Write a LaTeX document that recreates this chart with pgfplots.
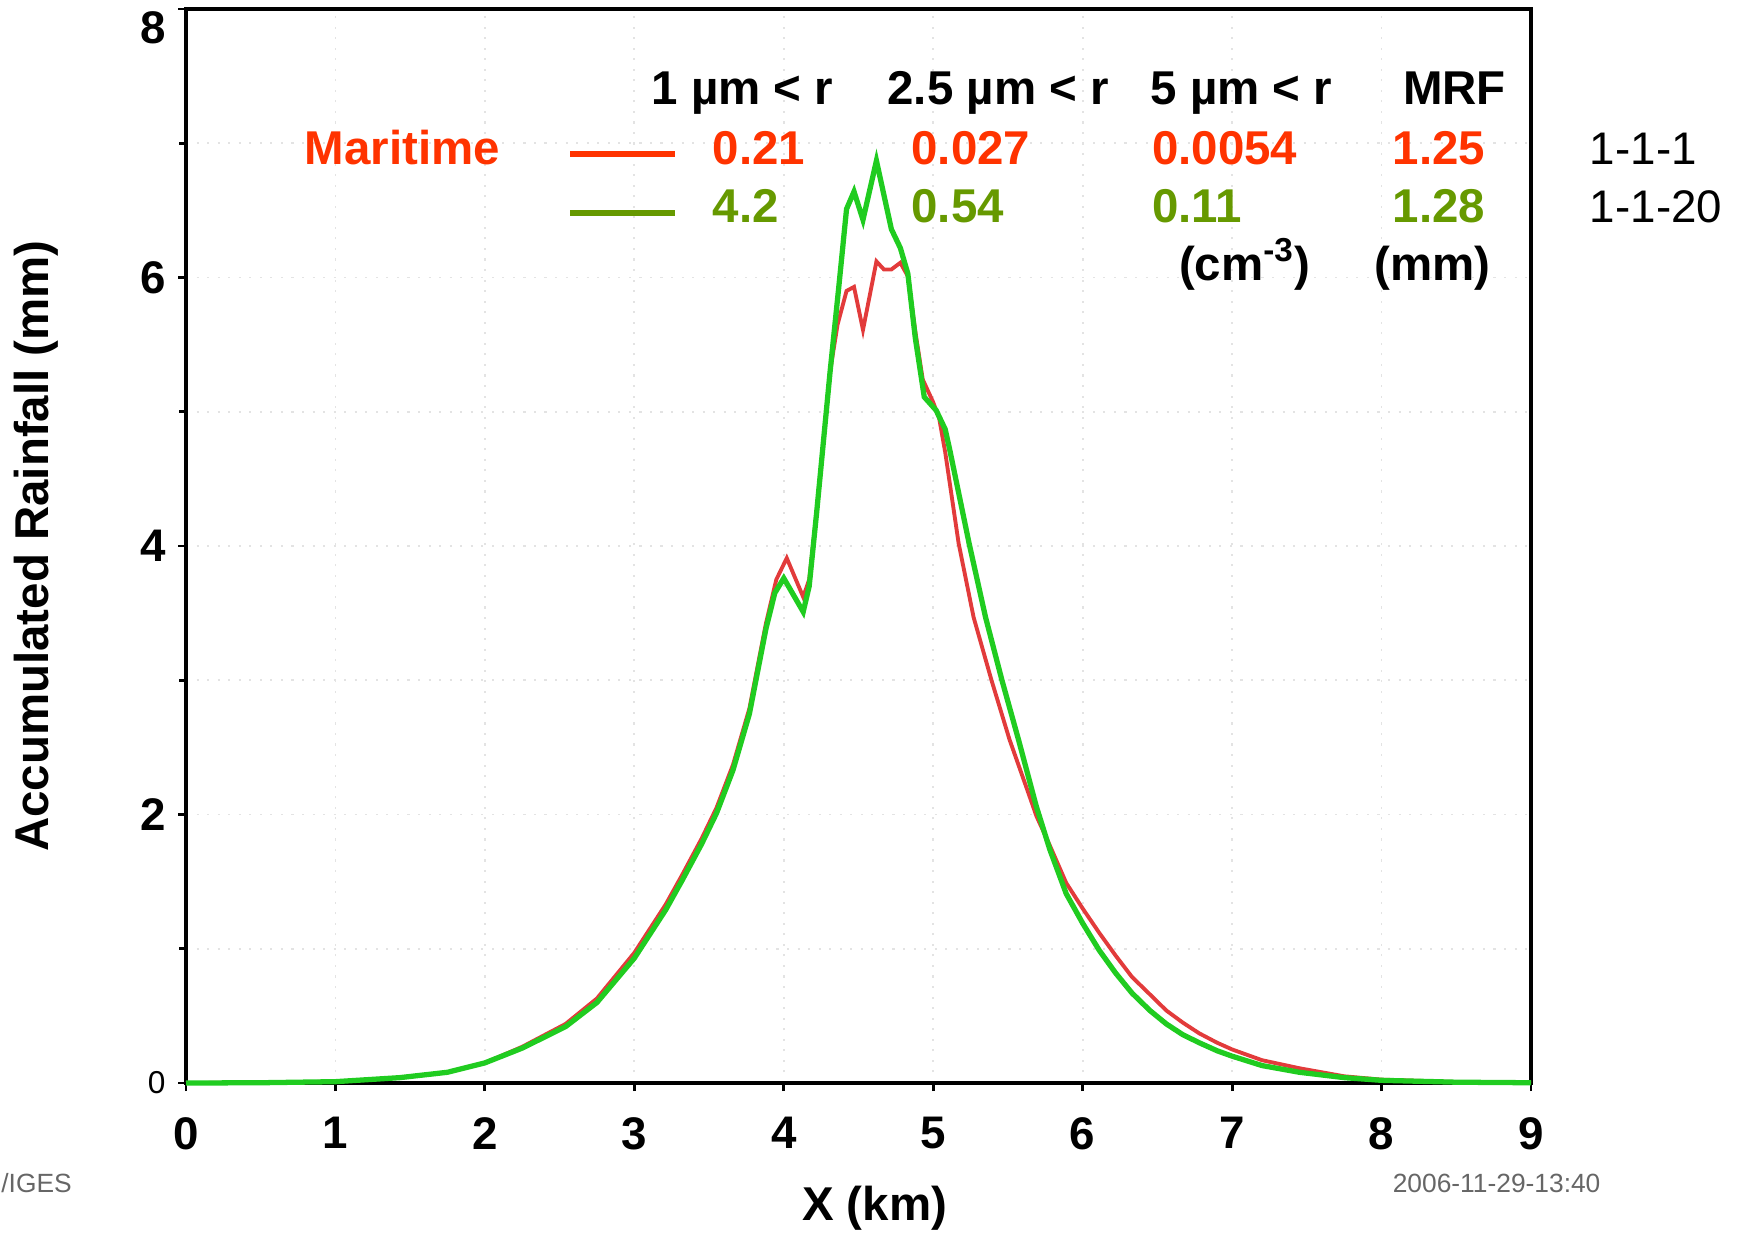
\documentclass[border=0pt]{standalone}
\usepackage{fontspec}
\setmainfont{Liberation Sans}
\setsansfont{Liberation Sans}
\usepackage{pgfplots}
\pgfplotsset{compat=1.18}

\definecolor{labred}{HTML}{FF3300}
\definecolor{labgreen}{HTML}{669900}
\definecolor{linered}{HTML}{E23B3B}
\definecolor{linegreen}{HTML}{20CC20}
\newcommand{\annfont}{\fontsize{13.5}{16}\selectfont\bfseries}

% accumulated rainfall, case 1-1-1
\pgfplotstableread{
x y
0 0
0.5 0.002
1.0 0.01
1.43 0.04
1.75 0.08
2.0 0.15
2.25 0.27
2.54 0.44
2.75 0.63
3.0 0.97
3.21 1.33
3.32 1.55
3.45 1.82
3.55 2.05
3.66 2.37
3.77 2.79
3.88 3.42
3.95 3.75
4.02 3.91
4.13 3.62
4.17 3.75
4.22 4.25
4.31 5.30
4.36 5.65
4.42 5.90
4.47 5.93
4.53 5.61
4.62 6.12
4.67 6.06
4.72 6.06
4.78 6.11
4.83 6.01
4.88 5.60
4.93 5.24
5.0 5.07
5.04 4.95
5.08 4.70
5.17 4.02
5.27 3.47
5.39 3.0
5.51 2.56
5.64 2.15
5.69 1.99
5.78 1.77
5.89 1.49
6.0 1.30
6.11 1.12
6.22 0.95
6.33 0.79
6.45 0.66
6.56 0.54
6.67 0.45
6.78 0.37
6.9 0.30
7.0 0.25
7.2 0.17
7.45 0.11
7.75 0.05
8.0 0.025
8.5 0.007
9.0 0.002
}\maritime

% accumulated rainfall, case 1-1-20
\pgfplotstableread{
x y
0 0
0.5 0.002
1.0 0.01
1.43 0.04
1.75 0.08
2.0 0.15
2.25 0.26
2.54 0.42
2.75 0.60
3.0 0.93
3.21 1.29
3.32 1.51
3.45 1.78
3.55 2.01
3.66 2.33
3.77 2.75
3.88 3.38
3.94 3.65
4.0 3.76
4.13 3.51
4.17 3.70
4.22 4.25
4.31 5.30
4.37 5.95
4.42 6.51
4.47 6.64
4.53 6.43
4.62 6.87
4.72 6.36
4.78 6.22
4.83 6.03
4.88 5.55
4.94 5.11
5.02 5.01
5.08 4.87
5.11 4.72
5.24 4.02
5.35 3.47
5.46 3.0
5.57 2.56
5.69 2.06
5.78 1.74
5.89 1.41
6.0 1.19
6.11 0.99
6.22 0.82
6.33 0.67
6.45 0.54
6.56 0.44
6.67 0.36
6.78 0.30
6.9 0.24
7.0 0.20
7.2 0.13
7.45 0.08
7.75 0.04
8.0 0.02
8.5 0.006
9.0 0.002
}\continental

\begin{document}
\begin{tikzpicture}
\useasboundingbox (0,0) rectangle (17.42,12.35);
\begin{axis}[
    at={(1.86cm,1.52cm)}, anchor=south west,
    scale only axis, width=13.45cm, height=10.74cm,
    xmin=0, xmax=9, ymin=0, ymax=8,
    xtick={0,...,9},
    ytick={0,2,4,6},
    yticklabels={{\fontsize{9}{9}\selectfont\mdseries 0},2,4,6},
    minor ytick={1,3,5,7},
    extra y ticks={8}, extra y tick labels={8},
    extra y tick style={grid=none, yticklabel style={yshift=-0.19cm}},
    tick pos=left, tick align=outside,
    major tick length=0.08cm, minor tick length=0.07cm,
    tick style={black, line width=0.8pt},
    axis line style={line width=1pt},
    grid=both,
    major grid style={gray!22, line width=0.5pt, dash pattern=on 0.6pt off 2.4pt},
    minor grid style={gray!22, line width=0.5pt, dash pattern=on 0.6pt off 2.4pt},
    /pgf/number format/assume math mode=true,
    ticklabel style={font=\fontsize{13}{13}\selectfont\bfseries},
    xticklabel style={yshift=-0.14cm},
    xlabel={X (km)},
    ylabel={Accumulated Rainfall (mm)},
    every axis x label/.style={at={([yshift=-1.25cm]axis description cs:0.512,0)}, anchor=center,
        font=\fontsize{13.5}{16}\selectfont\bfseries},
    every axis y label/.style={at={([xshift=-1.50cm]axis description cs:0,0.5)}, anchor=center, rotate=90,
        font=\fontsize{13.5}{16}\selectfont\bfseries},
    clip=false,
]
\addplot[linered, line width=1.1pt] table {\maritime};
\addplot[linegreen, line width=1.5pt] table {\continental};

% legend samples
\draw[labred, line width=1.9pt] (axis cs:2.57,6.92) -- (axis cs:3.27,6.92);
\draw[labgreen, line width=1.9pt] (axis cs:2.57,6.48) -- (axis cs:3.27,6.48);

% table header
\begin{scope}[every node/.style={inner sep=0pt, font=\annfont}]
\node[anchor=base west] at (axis cs:3.11,7.29) {1 µm < r};
\node[anchor=base west] at (axis cs:4.69,7.29) {2.5 µm < r};
\node[anchor=base west] at (axis cs:6.45,7.29) {5 µm < r};
\node[anchor=base west] at (axis cs:8.14,7.29) {MRF};

\node[anchor=base west, labred] at (axis cs:0.79,6.84) {Maritime};
\node[anchor=base west, labred] at (axis cs:3.52,6.84) {0.21};
\node[anchor=base west, labred] at (axis cs:4.85,6.84) {0.027};
\node[anchor=base west, labred] at (axis cs:6.46,6.84) {0.0054};
\node[anchor=base west, labred] at (axis cs:8.07,6.84) {1.25};

\node[anchor=base west, labgreen] at (axis cs:3.52,6.41) {4.2};
\node[anchor=base west, labgreen] at (axis cs:4.85,6.41) {0.54};
\node[anchor=base west, labgreen] at (axis cs:6.46,6.41) {0.11};
\node[anchor=base west, labgreen] at (axis cs:8.07,6.41) {1.28};

\node[anchor=base west] at (axis cs:6.64,5.98) {(cm\textsuperscript{-3})};
\node[anchor=base west] at (axis cs:7.95,5.98) {(mm)};
\end{scope}

\node[anchor=base west, inner sep=0pt, font=\fontsize{13}{16}\selectfont] at (axis cs:9.39,6.84) {1-1-1};
\node[anchor=base west, inner sep=0pt, font=\fontsize{13}{16}\selectfont] at (axis cs:9.39,6.41) {1-1-20};

% plotter footer
\node[anchor=west, inner sep=0pt, text=gray!80!black, font=\fontsize{7.5}{8}\selectfont] at (axis cs:-1.24,-0.745) {/IGES};
\node[anchor=center, inner sep=0pt, text=gray!80!black, font=\fontsize{7.5}{8}\selectfont] at (axis cs:8.77,-0.745) {2006-11-29-13:40};
\end{axis}
\end{tikzpicture}
\end{document}
